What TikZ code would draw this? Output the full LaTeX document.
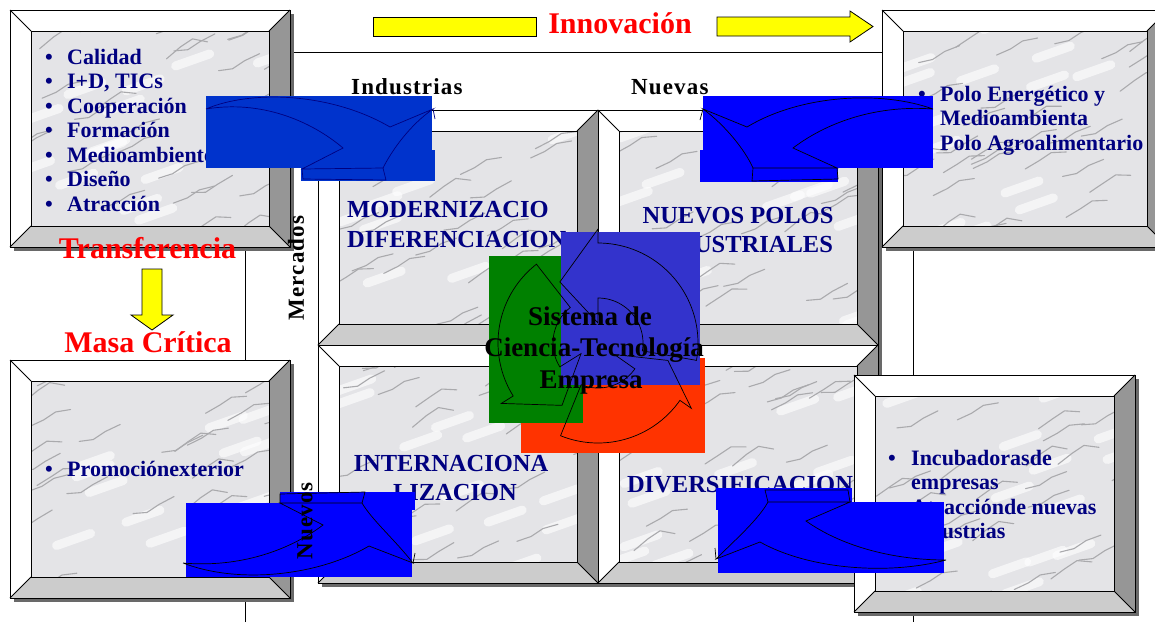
\documentclass[tikz,border=0pt]{standalone}
\usepackage{fontspec}
\setmainfont{Liberation Serif}
\usepackage{tikz}
\usetikzlibrary{positioning}
\definecolor{bluscuro}{RGB}{0,0,128}
\definecolor{bluA}{RGB}{0,51,204}
\definecolor{bluB}{RGB}{0,0,255}
\definecolor{verdeciclo}{RGB}{0,128,0}
\definecolor{violaciclo}{RGB}{51,51,204}
\definecolor{rossociclo}{RGB}{255,51,0}
\definecolor{giallo}{RGB}{255,255,0}
\definecolor{rossotesto}{RGB}{255,0,0}
\definecolor{smussoscuro}{RGB}{150,150,150}
\definecolor{smussochiaro}{RGB}{204,204,204}
\definecolor{ombra}{RGB}{105,105,105}
\definecolor{marmo}{RGB}{228,228,231}
\definecolor{vena}{RGB}{170,170,173}
\tikzstyle{voce} = [font=\bfseries\fontsize{22}{24.5}\selectfont,text=bluscuro,inner sep=0pt,anchor=base west]
\tikzstyle{settore} = [font=\bfseries\fontsize{24.5}{29}\selectfont,text=bluscuro,inner sep=0pt,anchor=base]
\tikzstyle{rosso} = [font=\bfseries\fontsize{30}{34}\selectfont,text=rossotesto,inner sep=0pt,anchor=base]
\tikzstyle{nero} = [font=\bfseries\fontsize{23}{26}\selectfont\addfontfeature{LetterSpace=5},text=black,inner sep=0pt,anchor=base]
\tikzstyle{sistema} = [font=\bfseries\fontsize{27}{32}\selectfont,text=black,inner sep=0pt,anchor=base]
\tikzstyle{giallafreccia} = [fill=giallo,draw=black,line width=0.8pt]
\tikzstyle{filo} = [draw=black,line width=0.9pt]
\tikzstyle{bordo} = [draw=black,line width=0.9pt]
\tikzstyle{venatura} = [draw=vena,line width=1.1pt,line cap=round,line join=round]
\tikzstyle{macchia} = [draw=white,opacity=0.6,line cap=round,line width=9pt]
\tikzstyle{sagoma} = [draw=black,line width=0.7pt]

% cornice con smussi: x1 y1 x2 y2 nome
\newcommand{\cornice}[5]{%
  \fill[ombra] (#1+4,#2+4) rectangle (#3+4,#4+4);
  \fill[white] (#1,#2) rectangle (#3,#4);
  \fill[smussoscuro] (#3,#2) -- (#3,#4) -- (#3-21,#4-21) -- (#3-21,#2+21) -- cycle;
  \fill[smussochiaro] (#1,#4) -- (#3,#4) -- (#3-21,#4-21) -- (#1+21,#4-21) -- cycle;
  \begin{scope}
    \clip (#1+21,#2+21) rectangle (#3-21,#4-21);
    \fill[marmo] (#1+21,#2+21) rectangle (#3-21,#4-21);
    \foreach \k in {1,...,16}{
      \pgfmathsetmacro{\xa}{#1+rnd*(#3-#1)}
      \pgfmathsetmacro{\ya}{#2+10+rnd*(#4-#2)}
      \draw[macchia] (\xa,\ya) -- +(34,-12);
    }
    \foreach \k in {1,...,34}{
      \pgfmathsetmacro{\xa}{#1+rnd*(#3-#1)}
      \pgfmathsetmacro{\ya}{#2+10+rnd*(#4-#2)}
      \pgfmathsetmacro{\dy}{rnd*12-6}
      \draw[venatura] (\xa,\ya) -- ++(14,{-6+\dy}) -- ++(12,-8) -- ++(15,{-3-\dy});
    }
  \end{scope}
  \draw[bordo] (#1,#2) rectangle (#3,#4);
  \draw[bordo] (#1+21,#2+21) rectangle (#3-21,#4-21);
  \draw[bordo] (#1,#2) -- (#1+21,#2+21) (#3,#2) -- (#3-21,#2+21)
               (#3,#4) -- (#3-21,#4-21) (#1,#4) -- (#1+21,#4-21);
  \coordinate (#5) at ({(#1+#3)/2},{(#2+#4)/2});
}

% freccia del ciclo: angolo coda, base punta, punta
\newcommand{\arcofreccia}[3]{%
  \draw[sagoma] plot[domain=#1:#2,samples=40] ({598+100*cos(\x)},{343-100*sin(\x)})
    -- ({598+114*cos(#2)},{343-114*sin(#2)})
    -- ({598+72*cos(#3)},{343-72*sin(#3)})
    -- ({598+20*cos(#2)},{343-20*sin(#2)})
    -- plot[domain=#2:#1,samples=40] ({598+45*cos(\x)},{343-45*sin(\x)})
    -- cycle;
}

\begin{document}
\begin{tikzpicture}[x=1pt,y=-1pt]
\pgfmathsetseed{4242}
\useasboundingbox (0,0) rectangle (1155,622);
\fill[white] (0,0) rectangle (1155,622);

\draw[filo] (245,622) -- (245,52) -- (913,52) -- (913,622);

% cornici
\cornice{10}{10}{290}{247}{cTL}
\cornice{10}{360}{290}{598}{cBL}
\cornice{318}{110}{598}{345}{c1}
\cornice{598}{110}{878}{345}{c2}
\cornice{318}{345}{598}{583}{c3}
\cornice{598}{345}{878}{583}{c4}
\cornice{882}{10}{1168}{247}{cTR}
\cornice{854}{375}{1135}{612}{cBR}

% frecce gialle
\draw[giallafreccia] (373,17) rectangle (536,36);
\draw[giallafreccia] (717,17) -- (850,17) -- (850,11) -- (873,26.5) -- (850,42) -- (850,36) -- (717,36) -- cycle;
\draw[giallafreccia] (142,269) -- (162,269) -- (162,315) -- (173,315) -- (152,330) -- (131,315) -- (142,315) -- cycle;

\node (innova) [rosso] at (620,33) {Innovación};
\node (trasf) [rosso] at (147.5,258) {Transferencia};
\node (massa) [rosso] at (148,352) {Masa Crítica};
\node (indus) [nero,anchor=base west] at (351,94) {Industrias};
\node (nuove) [nero,anchor=base west] at (631,94) {Nuevas};
\node (merc) [nero,rotate=90,anchor=center] at (296,268) {Mercados};

% liste
\node (lista1) [voce] at (45,64) {\begin{tabular}[t]{@{}p{22pt}@{}l@{}}
  \textbullet & Calidad\\ \textbullet & I+D, TICs\\ \textbullet & Cooperación\\
  \textbullet & Formación\\ \textbullet & Medioambiente\\ \textbullet & Diseño\\
  \textbullet & Atracción\end{tabular}};
\node (lista2) [voce] at (918,101) {\begin{tabular}[t]{@{}p{22pt}@{}l@{}}
  \textbullet & Polo Energético y\\ & Medioambienta\\ & Polo Agroalimentario\end{tabular}};
\node (lista3) [voce] at (45,476) {\begin{tabular}[t]{@{}p{22pt}@{}l@{}}
  \textbullet & Promociónexterior\end{tabular}};
\node (lista4) [voce] at (888,465) {\begin{tabular}[t]{@{}p{23pt}@{}l@{}}
  \textbullet & Incubadorasde\\ & empresas\\ \textbullet & Atracciónde nuevas\\ & industrias\end{tabular}};

% quadranti
\node (mod1) [settore,anchor=base west] at (347,217) {MODERNIZACIO};
\node (mod2) [settore,anchor=base west] at (347,247) {DIFERENCIACION};
\node (poli1) [settore] at (738,223) {NUEVOS POLOS};
\node (poli2) [settore] at (741,252) {INDUSTRIALES};
\node (int1) [settore] at (451,471) {INTERNACIONA};
\node (int2) [settore] at (455,500) {LIZACION};
\node (div) [settore] at (740,492) {DIVERSIFICACION};

% ciclo
\fill[rossociclo] (521,358) rectangle (705,453);
\fill[verdeciclo] (489,256) rectangle (583,423);
\fill[violaciclo] (561,232) rectangle (700,385);
\arcofreccia{-10}{90}{122}
\arcofreccia{128}{212}{240}
\arcofreccia{248}{325}{346}
\node (sis1) [sistema] at (590,325) {Sistema de};
\node (sis2) [sistema] at (594,356) {Ciencia-Tecnología};
\node (sis3) [sistema] at (591,388) {Empresa};

% frecce blu
\fill[bluA] (206,96) rectangle (432,168);
\fill[bluA] (301,150) rectangle (435,181);
\draw[sagoma,draw=bluscuro] (206,109) .. controls (250,90) and (330,92) .. (390,127) -- (433,109)
  .. controls (410,125) and (392,150) .. (383,168) -- (302,169) -- (343,148)
  .. controls (310,120) and (260,100) .. (206,109);
\draw[sagoma,draw=bluscuro] (302,169) -- (303,179) -- (386,180) -- (383,168) (433,109) -- (435,119);

\fill[bluB] (703,96) rectangle (933,168);
\fill[bluB] (700,150) rectangle (838,182);
\draw[sagoma] (933,109) .. controls (880,90) and (800,95) .. (747,127) -- (703,109)
  .. controls (725,125) and (745,150) .. (753,168) -- (837,168) -- (793,148)
  .. controls (830,120) and (880,105) .. (933,109);
\draw[sagoma] (753,168) -- (752,181) -- (838,179) -- (837,168) (703,109) -- (700,120);

\fill[bluB] (186,503) rectangle (412,577);
\fill[bluB] (280,492) rectangle (415,510);
\draw[sagoma] (183,563) .. controls (240,585) and (320,575) .. (369,546) -- (413,563)
  .. controls (395,540) and (372,520) .. (362,503) -- (280,503) -- (323,525)
  .. controls (290,550) and (240,568) .. (183,563);
\draw[sagoma] (280,503) -- (280,494) -- (365,492) -- (362,503) (413,563) -- (415,553);

\fill[bluB] (718,502) rectangle (944,573);
\fill[bluB] (716,488) rectangle (852,510);
\draw[sagoma] (946,560) .. controls (890,575) and (810,570) .. (760,542) -- (716,559)
  .. controls (735,540) and (758,520) .. (768,502) -- (850,502) -- (806,521)
  .. controls (840,545) and (890,560) .. (946,560);
\draw[sagoma] (768,502) -- (765,490) -- (848,490) -- (850,502) (716,559) -- (715,548);

\node (nuovi) [nero,rotate=90,anchor=center] at (305,521) {Nuevos};
\end{tikzpicture}
\end{document}
